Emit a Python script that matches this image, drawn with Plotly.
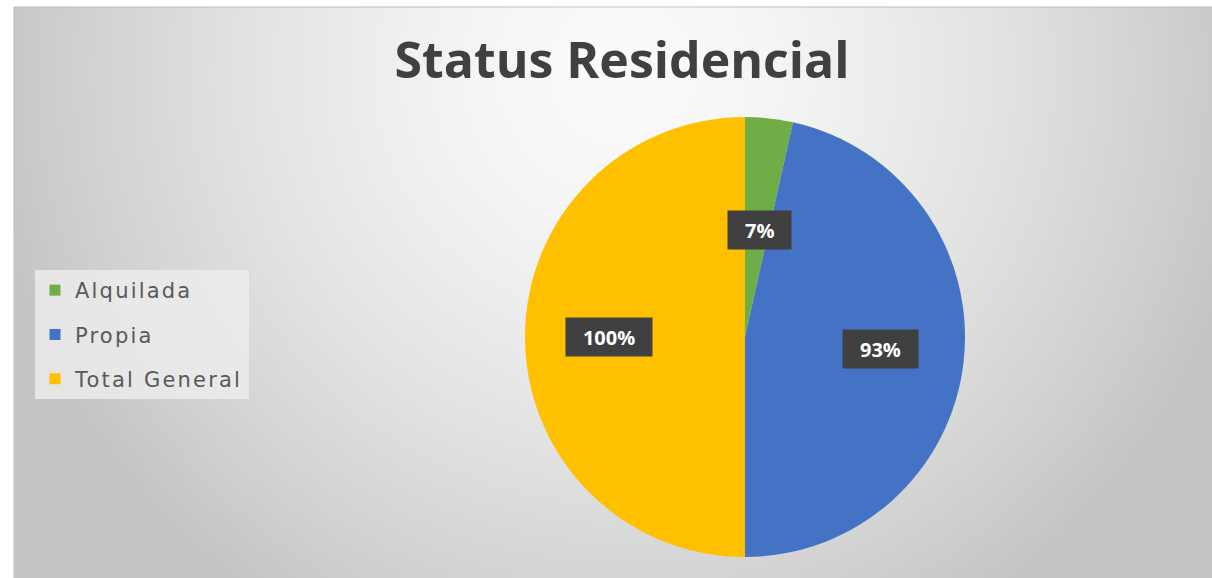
import math, zlib, struct, base64
import plotly.graph_objects as go

# ---- data ----
categories = ["Alquilada", "Propia", "Total General"]
values = [7, 93, 100]          # percent values shown on labels
colors = ["#70AD47", "#4472C4", "#FFC000"]
title_text = "Status Residencial"

W, H = 1212, 578

# ---- background gradient image (style only) ----
def make_png(w, h, fn):
    raw = b"".join(b"\x00" + bytes(fn(x, y) for x in range(w)) for y in range(h))
    def chunk(tag, data):
        return struct.pack(">I", len(data)) + tag + data + struct.pack(">I", zlib.crc32(tag + data) & 0xffffffff)
    return (b"\x89PNG\r\n\x1a\n" + chunk(b"IHDR", struct.pack(">IIBBBBB", w, h, 8, 0, 0, 0, 0))
            + chunk(b"IDAT", zlib.compress(raw)) + chunk(b"IEND", b""))

AX0, AY0 = 14, 7
GW, GH = 300, 143
sx = (W - AX0) / GW
sy = (H - AY0) / GH
def grad(x, y):
    px = AX0 + x * sx
    py = AY0 + y * sy
    d = math.hypot(px - 620, py - 70)
    t = min(1.0, d / 650)
    return int(max(0, min(255, 251 - 55 * t ** 1.5)))
png = make_png(GW, GH, grad)
img_src = "data:image/png;base64," + base64.b64encode(png).decode()

# ---- pie geometry (pixels) ----
CX, CY, R = 745, 337, 220
LFX, LFY = 0.62, 0.49   # label placement factors

fig = go.Figure()
fig.add_trace(go.Pie(
    labels=categories, values=values, sort=False, direction="clockwise", rotation=0,
    marker=dict(colors=colors, line=dict(width=0)), textinfo="none", showlegend=False,
    domain=dict(x=[(CX - R) / W, (CX + R) / W], y=[1 - (CY + R) / H, 1 - (CY - R) / H]),
))

# legend entries
for c, col in zip(categories, colors):
    fig.add_trace(go.Scatter(x=[None], y=[None], mode="markers",
                             name=f'<span style="letter-spacing:2.2px">{c}</span>', legendgroup=c,
                             marker=dict(symbol="square", size=11, color=col)))

# data labels with dark boxes, positioned from the data
def text_w(s, fs=20):
    return sum(0.8 * fs if ch == "%" else 0.57 * fs for ch in s)

total = sum(values)
cum = 0
for v in values:
    mid = 2 * math.pi * (cum + v / 2) / total
    cum += v
    lx = CX + LFX * R * math.sin(mid)
    ly = CY - LFY * R * math.cos(mid)
    txt = f"{v}%"
    fig.add_annotation(x=lx / W, y=1 - ly / H, xref="paper", yref="paper", text=f"<b>{txt}</b>",
                       xanchor="center", yanchor="middle",
                       showarrow=False, font=dict(family="Open Sans", size=20, color="white"),
                       bgcolor="#404040", borderpad=6, width=text_w(txt) + 24, height=26)

fig.update_layout(
    width=W, height=H, margin=dict(l=0, r=0, t=0, b=0),
    paper_bgcolor="white", plot_bgcolor="rgba(0,0,0,0)",
    xaxis=dict(visible=False), yaxis=dict(visible=False),
    images=[dict(source=img_src, xref="paper", yref="paper", x=AX0 / W, y=1 - AY0 / H,
                 sizex=(W - AX0) / W, sizey=(H - AY0) / H, xanchor="left", yanchor="top",
                 sizing="stretch", layer="below")],
    shapes=[dict(type="rect", xref="paper", yref="paper", x0=AX0 / W, x1=1.01, y0=-0.01, y1=1 - AY0 / H,
                 line=dict(color="#bdbdbd", width=1), fillcolor="rgba(0,0,0,0)", layer="below")],
    title=dict(text=f"<b>{title_text}</b>", x=622 / W, y=1 - 60 / H, xanchor="center", yanchor="middle",
               font=dict(family="Open Sans", size=50, color="#404040")),
    legend=dict(x=35 / W, y=1 - 270 / H, xanchor="left", yanchor="top",
                bgcolor="rgba(238,238,238,0.8)", font=dict(family="DejaVu Sans", size=21, color="#595959"),
                tracegroupgap=14, itemclick=False),
    showlegend=True,
)

fig.write_html("out.html", config={"displayModeBar": False},
               post_script="document.body.style.margin='0';document.body.style.overflow='hidden';")
